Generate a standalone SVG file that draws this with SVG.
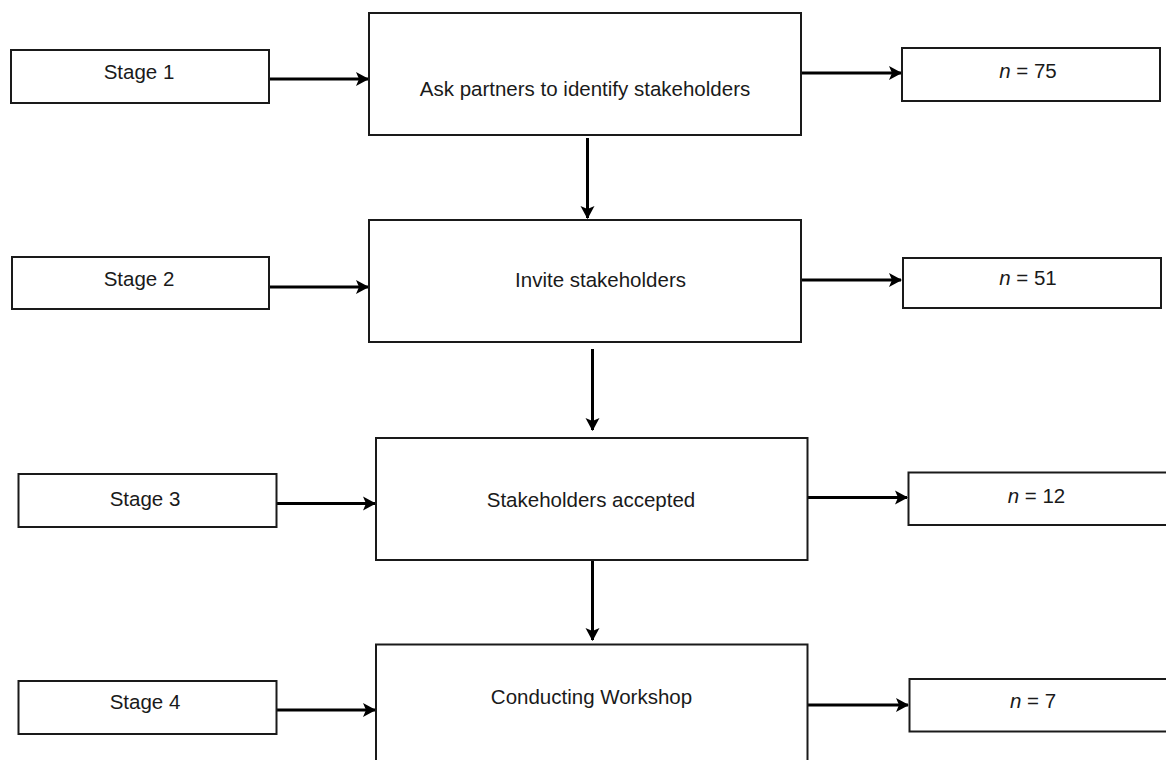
<svg xmlns="http://www.w3.org/2000/svg" width="1166" height="760" viewBox="0 0 1166 760">
<style>
.box{fill:#fff;stroke:#1a1a1a;stroke-width:2}
.t{font-family:"Liberation Sans",Arial,sans-serif;font-size:20.5px;fill:#1a1a1a;text-anchor:middle}
.c{fill:none;stroke:#000;stroke-width:3}
</style>
<defs>
<marker id="ah" markerUnits="userSpaceOnUse" markerWidth="14" markerHeight="16" refX="12" refY="7" orient="auto" viewBox="0 0 14 14">
<path d="M0,0 L13,7 L0,14 L3,7 Z" fill="#000"/>
</marker>
</defs>
<rect width="1166" height="760" fill="#fff"/>
<g id="connectors">
<line class="c" x1="269" y1="79" x2="368" y2="79" marker-end="url(#ah)"/>
<line class="c" x1="801" y1="73" x2="901" y2="73" marker-end="url(#ah)"/>
<line class="c" x1="587.5" y1="138" x2="587.5" y2="218" marker-end="url(#ah)"/>
<line class="c" x1="269" y1="287" x2="368" y2="287" marker-end="url(#ah)"/>
<line class="c" x1="801" y1="280" x2="901" y2="280" marker-end="url(#ah)"/>
<line class="c" x1="592.5" y1="349" x2="592.5" y2="430" marker-end="url(#ah)"/>
<line class="c" x1="277" y1="503.5" x2="375" y2="503.5" marker-end="url(#ah)"/>
<line class="c" x1="807" y1="497.5" x2="907" y2="497.5" marker-end="url(#ah)"/>
<line class="c" x1="592.5" y1="560" x2="592.5" y2="640" marker-end="url(#ah)"/>
<line class="c" x1="277" y1="710" x2="375" y2="710" marker-end="url(#ah)"/>
<line class="c" x1="807" y1="705" x2="908" y2="705" marker-end="url(#ah)"/>
</g>
<g id="stage1"><rect class="box" x="11" y="50" width="258" height="53"/><text class="t" x="139" y="79">Stage 1</text></g>
<g id="step1"><rect class="box" x="369" y="13" width="432" height="122"/><text class="t" x="585" y="96">Ask partners to identify stakeholders</text></g>
<g id="n1"><rect class="box" x="902" y="48" width="258" height="53"/><text class="t" x="1028" y="78"><tspan font-style="italic">n</tspan> = 75</text></g>
<g id="stage2"><rect class="box" x="12" y="257" width="257" height="52"/><text class="t" x="139" y="286">Stage 2</text></g>
<g id="step2"><rect class="box" x="369" y="220" width="432" height="122"/><text class="t" x="600.5" y="286.5">Invite stakeholders</text></g>
<g id="n2"><rect class="box" x="903" y="258" width="258" height="50"/><text class="t" x="1028" y="285"><tspan font-style="italic">n</tspan> = 51</text></g>
<g id="stage3"><rect class="box" x="18.5" y="474" width="258" height="53"/><text class="t" x="145" y="506">Stage 3</text></g>
<g id="step3"><rect class="box" x="376" y="438" width="431.5" height="122"/><text class="t" x="591" y="507">Stakeholders accepted</text></g>
<g id="n3"><rect class="box" x="908.5" y="472.5" width="262" height="52.5"/><text class="t" x="1036.5" y="503"><tspan font-style="italic">n</tspan> = 12</text></g>
<g id="stage4"><rect class="box" x="18.5" y="681" width="258" height="53"/><text class="t" x="145" y="709">Stage 4</text></g>
<g id="step4"><rect class="box" x="376" y="644.5" width="431.5" height="130"/><text class="t" x="591.5" y="703.5">Conducting Workshop</text></g>
<g id="n4"><rect class="box" x="909.5" y="679" width="262" height="52.5"/><text class="t" x="1033" y="708"><tspan font-style="italic">n</tspan> = 7</text></g>
</svg>
